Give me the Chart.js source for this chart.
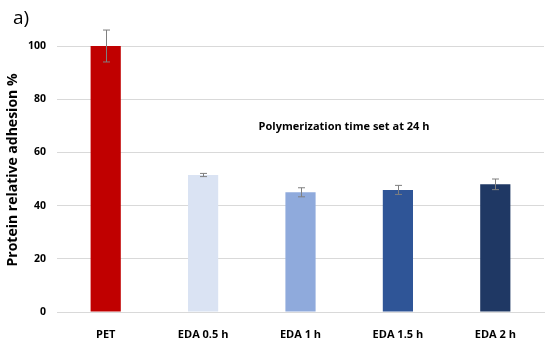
<!DOCTYPE html>
<html>
<head>
<meta charset="utf-8">
<script src="https://cdn.jsdelivr.net/npm/chart.js@4.4.1/dist/chart.umd.min.js"></script>
<style>
  html, body { margin: 0; padding: 0; background: #fff; }
  #wrap { position: relative; width: 550px; height: 341px; }
</style>
</head>
<body>
<div id="wrap"><canvas id="c" width="550" height="341"></canvas></div>
<script>
const categories = ["PET", "EDA 0.5 h", "EDA 1 h", "EDA 1.5 h", "EDA 2 h"];
const values = [100, 51.5, 45.0, 45.9, 48.0];
const errors = [6.0, 0.6, 1.7, 1.7, 2.0];
const barColors = ["#C00000", "#DAE3F3", "#8FAADC", "#2F5597", "#1F3864"];
const yTicks = [0, 20, 40, 60, 80, 100];
const yTitle = "Protein relative adhesion %";
const note = "Polymerization time set at 24 h";
const panelLabel = "a)";

const FONT = "'Open Sans', Lato, sans-serif";

const errorBarPlugin = {
  id: 'errorBars',
  afterDatasetsDraw(chart) {
    const ctx = chart.ctx;
    const meta = chart.getDatasetMeta(0);
    const y = chart.scales.y;
    ctx.save();
    ctx.strokeStyle = "#7f7f7f";
    ctx.lineWidth = 1;
    meta.data.forEach((bar, i) => {
      const x = Math.round(bar.x) + 0.5;
      const top = y.getPixelForValue(values[i] + errors[i]);
      const bot = y.getPixelForValue(values[i] - errors[i]);
      ctx.beginPath();
      ctx.moveTo(x, top); ctx.lineTo(x, bot);
      ctx.moveTo(x - 3.5, top); ctx.lineTo(x + 3.5, top);
      ctx.moveTo(x - 3.5, bot); ctx.lineTo(x + 3.5, bot);
      ctx.stroke();
    });
    ctx.restore();
  }
};

const textPlugin = {
  id: 'texts',
  afterDraw(chart) {
    const ctx = chart.ctx;
    ctx.save();
    ctx.fillStyle = "#000";
    ctx.font = "19px " + FONT;
    ctx.textAlign = "left";
    ctx.textBaseline = "alphabetic";
    ctx.fillText(panelLabel, 13, 24);
    ctx.font = "bold 11px " + FONT;
    ctx.textAlign = "center";
    ctx.textBaseline = "middle";
    ctx.fillText(note, 344, 127);
    // y axis title
    ctx.translate(13, 170);
    ctx.rotate(-Math.PI / 2);
    ctx.font = "bold 14px " + FONT;
    ctx.textAlign = "center";
    ctx.textBaseline = "middle";
    ctx.fillText(yTitle, 0, 0);
    ctx.restore();
  }
};

new Chart(document.getElementById('c'), {
  type: 'bar',
  data: {
    labels: categories,
    datasets: [{
      data: values,
      backgroundColor: barColors,
      borderWidth: 0,
      barPercentage: 0.31,
      categoryPercentage: 1.0
    }]
  },
  options: {
    responsive: false,
    animation: false,
    layout: { padding: { left: 5, right: 6, top: 46, bottom: 2 } },
    plugins: { legend: { display: false }, tooltip: { enabled: false } },
    scales: {
      x: {
        grid: { display: false },
        border: { display: true, color: "#d9d9d9", width: 1 },
        ticks: { color: "#000", font: { family: FONT, size: 11, weight: "bold" }, padding: 8 },
        afterFit(s) { s.height = 27; }
      },
      y: {
        min: 0, max: 100,
        afterBuildTicks(s) { s.ticks = yTicks.map(v => ({ value: v })); },
        grid: { color: "#d9d9d9", lineWidth: 1, drawTicks: false },
        border: { display: false },
        ticks: { color: "#000", font: { family: FONT, size: 10.5, weight: "bold" }, padding: 11 },
        title: { display: false },
        afterFit(s) { s.width = 52; }
      }
    }
  },
  plugins: [errorBarPlugin, textPlugin]
});
</script>
</body>
</html>
